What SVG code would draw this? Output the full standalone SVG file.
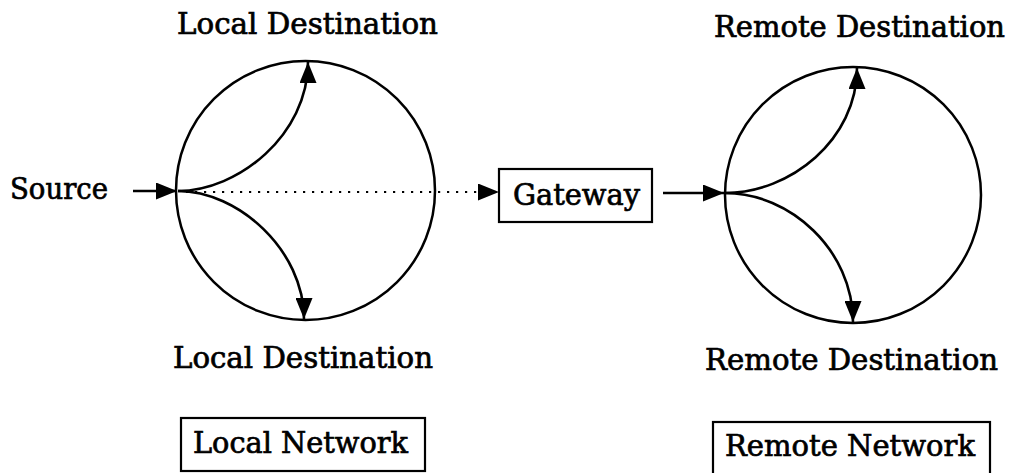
<svg xmlns="http://www.w3.org/2000/svg" width="1009" height="473" viewBox="0 0 1009 473">
  <style>
    .lbl { font-family: "DejaVu Serif", "Liberation Serif", serif; font-size: 29px; fill: #000; stroke: #000; stroke-width: 0.7; }
    .ring { fill: none; stroke: #000; stroke-width: 2.5; }
    .box { fill: #fff; stroke: #000; stroke-width: 2.2; }
    .edge { fill: none; stroke: #000; stroke-width: 2.6; marker-end: url(#head); }
    .dots { fill: none; stroke: #000; stroke-width: 2.2; stroke-dasharray: 2.2 6.8; marker-end: url(#head); }
  </style>
  <defs>
    <marker id="head" markerUnits="userSpaceOnUse" viewBox="0 0 21 17" markerWidth="21" markerHeight="17" refX="21" refY="8.5" orient="auto">
      <path d="M0,0 L21,8.5 L0,17 z" fill="#000"/>
    </marker>
  </defs>
  <rect width="1009" height="473" fill="#fff"/>

  <!-- local network -->
  <g id="local-network">
    <circle class="ring" cx="305.5" cy="190.5" r="129.5"/>
    <text class="lbl" x="177" y="34" textLength="261" lengthAdjust="spacingAndGlyphs">Local Destination</text>
    <text class="lbl" x="173" y="368" textLength="260" lengthAdjust="spacingAndGlyphs">Local Destination</text>
  </g>
  <g id="local-network-label">
    <rect class="box" x="181" y="418" width="244" height="53"/>
    <text class="lbl" x="193" y="453" textLength="215" lengthAdjust="spacingAndGlyphs">Local Network</text>
  </g>

  <!-- source -->
  <g id="source">
    <text class="lbl" x="10" y="199" textLength="98" lengthAdjust="spacingAndGlyphs">Source</text>
  </g>

  <!-- gateway -->
  <g id="gateway">
    <rect class="box" x="499" y="169" width="153" height="53"/>
    <text class="lbl" x="513" y="205" textLength="127" lengthAdjust="spacingAndGlyphs">Gateway</text>
  </g>

  <!-- remote network -->
  <g id="remote-network">
    <circle class="ring" cx="853" cy="195" r="128"/>
    <text class="lbl" x="714" y="37" textLength="291" lengthAdjust="spacingAndGlyphs">Remote Destination</text>
    <text class="lbl" x="705" y="370" textLength="293" lengthAdjust="spacingAndGlyphs">Remote Destination</text>
  </g>
  <g id="remote-network-label">
    <rect class="box" x="713" y="422" width="277" height="60"/>
    <text class="lbl" x="725" y="456" textLength="250" lengthAdjust="spacingAndGlyphs">Remote Network</text>
  </g>

  <!-- connectors -->
  <g id="connectors">
    <path class="edge" d="M133,191 L177,191"/>
    <path class="edge" d="M178,191 C238,191 308,135 308,62"/>
    <path class="edge" d="M178,191 C238,191 304,250 304,319"/>
    <path class="dots" d="M186,192 L499,192"/>
    <path class="edge" d="M663,193 L724,193"/>
    <path class="edge" d="M725,193 C790,193 857,140 857,68"/>
    <path class="edge" d="M725,193 C790,193 853,250 853,322"/>
  </g>
</svg>
